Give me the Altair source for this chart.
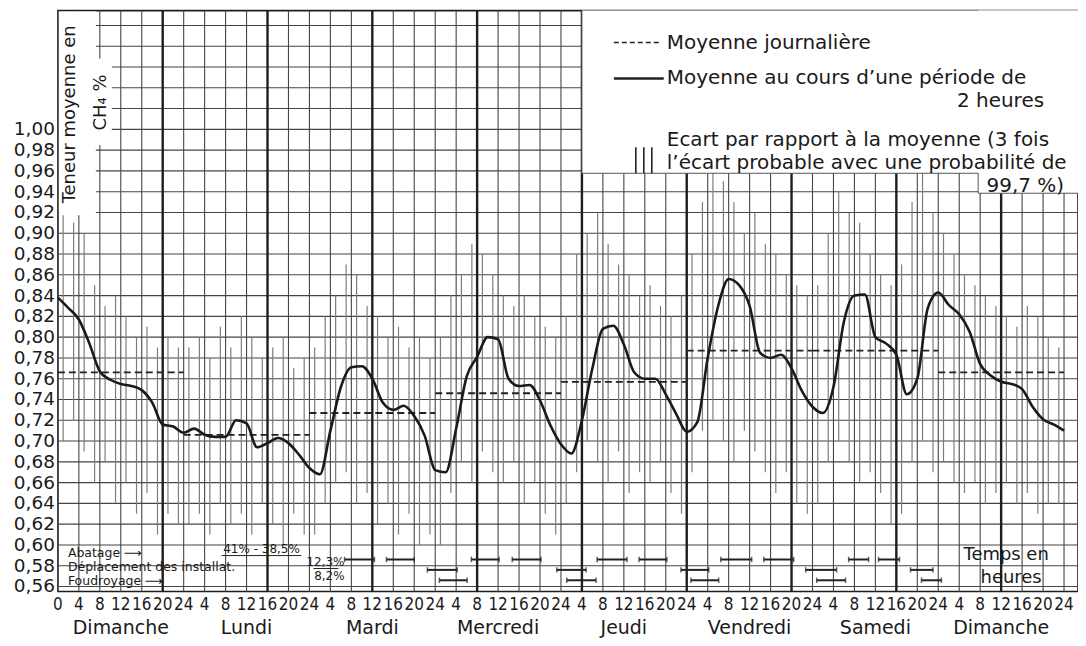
import altair as alt
import pandas as pd

# ---------------- data ----------------
HOURS = list(range(0, 193, 2))
MOY_2H = [0.838, 0.828, 0.817, 0.794, 0.767, 0.759, 0.755, 0.753, 0.749, 0.737, 0.716, 0.714,
          0.708, 0.712, 0.706, 0.704, 0.704, 0.720, 0.717, 0.694, 0.698, 0.703, 0.698, 0.687,
          0.674, 0.668, 0.710, 0.752, 0.771, 0.772, 0.760, 0.737, 0.730, 0.734, 0.724, 0.705,
          0.672, 0.670, 0.712, 0.762, 0.781, 0.800, 0.798, 0.760, 0.753, 0.754, 0.739, 0.715,
          0.697, 0.688, 0.720, 0.770, 0.808, 0.811, 0.793, 0.766, 0.760, 0.760, 0.745, 0.726,
          0.709, 0.718, 0.780, 0.830, 0.856, 0.850, 0.830, 0.785, 0.780, 0.783, 0.770, 0.748,
          0.733, 0.727, 0.752, 0.815, 0.840, 0.841, 0.800, 0.794, 0.783, 0.745, 0.760, 0.828,
          0.843, 0.831, 0.822, 0.805, 0.774, 0.763, 0.757, 0.755, 0.750, 0.733, 0.721, 0.716,
          0.710]

BAR_HOURS = list(range(1, 192, 2))
BAR_HIGH = [0.92, 0.91, 0.90, 0.85, 0.83, 0.84, 0.82, 0.80, 0.81, 0.79, 0.80, 0.79,
            0.79, 0.80, 0.78, 0.81, 0.79, 0.82, 0.80, 0.78, 0.79, 0.80, 0.77, 0.78,
            0.79, 0.82, 0.84, 0.87, 0.86, 0.83, 0.82, 0.80, 0.81, 0.79, 0.80, 0.78,
            0.80, 0.84, 0.86, 0.89, 0.88, 0.86, 0.84, 0.83, 0.84, 0.82, 0.81, 0.80,
            0.82, 0.88, 0.90, 0.92, 0.89, 0.87, 0.86, 0.84, 0.85, 0.83, 0.82, 0.84,
            0.88, 0.93, 0.96, 0.95, 0.93, 0.90, 0.92, 0.89, 0.88, 0.86, 0.85, 0.84,
            0.85, 0.90, 0.94, 0.92, 0.91, 0.88, 0.86, 0.85, 0.87, 0.93, 0.96, 0.92,
            0.90, 0.88, 0.86, 0.85, 0.84, 0.83, 0.82, 0.81, 0.83, 0.82, 0.80, 0.79]
BAR_LOW = [0.70, 0.72, 0.69, 0.66, 0.68, 0.64, 0.66, 0.63, 0.65, 0.61, 0.63, 0.62,
           0.62, 0.63, 0.61, 0.64, 0.62, 0.63, 0.61, 0.64, 0.62, 0.60, 0.63, 0.61,
           0.61, 0.64, 0.66, 0.67, 0.64, 0.65, 0.62, 0.64, 0.61, 0.63, 0.60, 0.61,
           0.60, 0.65, 0.68, 0.66, 0.69, 0.67, 0.66, 0.68, 0.64, 0.66, 0.63, 0.61,
           0.64, 0.67, 0.70, 0.68, 0.66, 0.69, 0.65, 0.67, 0.66, 0.68, 0.65, 0.63,
           0.67, 0.71, 0.72, 0.70, 0.68, 0.71, 0.69, 0.67, 0.65, 0.67, 0.64, 0.63,
           0.64, 0.68, 0.70, 0.68, 0.66, 0.67, 0.65, 0.62, 0.63, 0.68, 0.70, 0.67,
           0.68, 0.66, 0.65, 0.66, 0.64, 0.65, 0.66, 0.64, 0.65, 0.63, 0.64, 0.64]

DAY_NAMES = ["Dimanche", "Lundi", "Mardi", "Mercredi", "Jeudi", "Vendredi", "Samedi", "Dimanche"]
DAY_START = [0, 24, 48, 72, 96, 120, 144, 168]
DAY_END = [24, 48, 72, 96, 120, 144, 168, 192]
DAY_MEAN = [0.766, 0.706, 0.727, 0.746, 0.757, 0.787, 0.787, 0.766]

ABATAGE_START = [54.7, 62.7, 78.9, 86.7, 102.9, 110.9, 126.5, 134.7, 150.9, 156.6]
ABATAGE_END = [60.4, 68.0, 84.2, 92.2, 108.6, 116.2, 132.4, 140.4, 154.7, 160.6]
DEPL_START = [70.5, 95.2, 118.9, 142.7, 162.7]
DEPL_END = [76.2, 100.8, 124.2, 148.6, 167.0]
FOUD_START = [72.8, 97.1, 120.8, 144.8, 164.8]
FOUD_END = [78.1, 102.7, 126.1, 150.3, 168.6]
ROW_LEVEL = {"Abatage": 0.586, "Deplacement": 0.576, "Foudroyage": 0.566}

Y_TICKS = [round(0.56 + 0.02 * i, 2) for i in range(23)]
Y_LABELS = [f"{v:.2f}".replace(".", ",") for v in Y_TICKS]
X_TICKS = list(range(0, 193, 4))
X_LABELS = ["0" if h == 0 else ("24" if h % 24 == 0 else str(h % 24)) for h in X_TICKS]
GRID_Y = [round(0.56 + 0.02 * i, 2) for i in range(28)]

# ---------------- layout ----------------
W, H = 1022, 582
PX_PER_H = 5.25
XMAX = W / PX_PER_H
YMIN, YMAX = 0.5552, 1.1143
FONT = "DejaVu Sans"
NARROW = "Liberation Sans Narrow, DejaVu Sans Condensed, Liberation Sans"
INK = "#1a1a1a"

xs = alt.Scale(domain=[0, XMAX], nice=False, zero=False)
ys = alt.Scale(domain=[YMIN, YMAX], nice=False, zero=False)


def hx(px):
    return px / PX_PER_H


def vy(py):
    return YMAX - py * (YMAX - YMIN) / H


X = lambda f: alt.X(f, scale=xs, axis=None)
Y = lambda f: alt.Y(f, scale=ys, axis=None)

# 2-hour mean line
line = alt.Chart(pd.DataFrame({"h": HOURS, "v": MOY_2H})).mark_line(
    color=INK, strokeWidth=2.6, interpolate="monotone").encode(x=X("h:Q"), y=Y("v:Q"))

# tick labels drawn as text through the scales
ylab = alt.Chart(pd.DataFrame({"v": Y_TICKS, "t": Y_LABELS})).mark_text(
    font=FONT, fontSize=18.5, align="right", baseline="middle", color=INK).encode(
    x=alt.value(-3), y=Y("v:Q"), text="t:N")
xlab = alt.Chart(pd.DataFrame({"h": X_TICKS, "t": X_LABELS})).mark_text(
    font=NARROW, fontSize=17, align="center", baseline="top", color=INK).encode(
    x=X("h:Q"), y=alt.value(H + 6), text="t:N")

# grid
thin_h = [h for h in X_TICKS if h % 20 != 0 or h == 0]
thick_h = [h for h in X_TICKS if h % 20 == 0 and h != 0]
vgrid = alt.Chart(pd.DataFrame({"h": thin_h})).mark_rule(color="#454545", strokeWidth=1.1).encode(x=X("h:Q"))
vgrid_thick = alt.Chart(pd.DataFrame({"h": thick_h})).mark_rule(color="#1e1e1e", strokeWidth=2.4).encode(x=X("h:Q"))
hgrid = alt.Chart(pd.DataFrame({"v": GRID_Y})).mark_rule(color="#454545", strokeWidth=1.1).encode(y=Y("v:Q"))

# error bars
bars = alt.Chart(pd.DataFrame({"h": BAR_HOURS, "lo": BAR_LOW, "hi": BAR_HIGH})).mark_rule(
    color="#7d7d7d", strokeWidth=1.2).encode(x=X("h:Q"), y=Y("lo:Q"), y2="hi:Q")

# daily means
means = alt.Chart(pd.DataFrame({"s": DAY_START, "e": DAY_END, "m": DAY_MEAN})).mark_rule(
    color="#222", strokeWidth=1.8, strokeDash=[7, 4]).encode(x=X("s:Q"), x2="e:Q", y=Y("m:Q"))

# activity periods
seg_rows = []
for s, e in zip(ABATAGE_START, ABATAGE_END):
    seg_rows.append({"s": s, "e": e, "v": ROW_LEVEL["Abatage"]})
for s, e in zip(DEPL_START, DEPL_END):
    seg_rows.append({"s": s, "e": e, "v": ROW_LEVEL["Deplacement"]})
for s, e in zip(FOUD_START, FOUD_END):
    seg_rows.append({"s": s, "e": e, "v": ROW_LEVEL["Foudroyage"]})
seg_df = pd.DataFrame(seg_rows)
segs = alt.Chart(seg_df).mark_rule(color="#222", strokeWidth=2).encode(x=X("s:Q"), x2="e:Q", y=Y("v:Q"))
seg_ends = alt.Chart(seg_df).transform_fold(["s", "e"], as_=["k", "hh"]).mark_point(
    shape="stroke", angle=90, size=30, color="#222", strokeWidth=1.5).encode(x=X("hh:Q"), y=Y("v:Q"))

# day names
days = alt.Chart(pd.DataFrame({"h": [d + 12 for d in DAY_START], "n": DAY_NAMES})).mark_text(
    font=FONT, fontSize=19, color=INK, baseline="middle", align="center").encode(
    x=X("h:Q"), y=alt.value(619), text="n:N")


# ---------------- decorations (frame pixels converted to the chart's scales) ----------------
def conv(rows):
    out = []
    for r in rows:
        o = dict(r)
        for k in ("x", "x2"):
            if k in o:
                o[k] = hx(o[k])
        for k in ("y", "y2"):
            if k in o:
                o[k] = vy(o[k])
        out.append(o)
    return pd.DataFrame(out)


def f_rect(rows, fill="white"):
    return alt.Chart(conv(rows)).mark_rect(fill=fill).encode(
        x=X("x:Q"), x2="x2:Q", y=Y("y:Q"), y2="y2:Q")


def f_rule(rows, width=1.0, dash=None, color="#222"):
    kw = dict(color=color, strokeWidth=width)
    if dash:
        kw["strokeDash"] = dash
    return alt.Chart(conv(rows)).mark_rule(**kw).encode(
        x=X("x:Q"), x2="x2:Q", y=Y("y:Q"), y2="y2:Q")


def f_text(rows, size, align="left", angle=0, font=FONT):
    return alt.Chart(conv(rows)).mark_text(
        font=font, fontSize=size, align=align, baseline="middle", angle=angle, color=INK).encode(
        x=X("x:Q"), y=Y("y:Q"), text="t:N")


boxes = f_rect([
    {"x": 525, "x2": 1022, "y": 0, "y2": 163},
    {"x": 922, "x2": 1022, "y": 0, "y2": 183},
    {"x": 1, "x2": 38, "y": 1, "y2": 205},
    {"x": 36, "x2": 54, "y": 48, "y2": 135},
])
box_border = f_rule([
    {"x": 525, "x2": 525, "y": 0, "y2": 163},
    {"x": 525, "x2": 922, "y": 163, "y2": 163},
    {"x": 922, "x2": 922, "y": 163, "y2": 183},
    {"x": 922, "x2": 1022, "y": 183, "y2": 183},
], width=1.0, color="#555")

leg_dash = f_rule([{"x": 557, "x2": 605, "y": 32, "y2": 32}], width=1.6, dash=[5, 3])
leg_solid = f_rule([{"x": 557, "x2": 607, "y": 68, "y2": 68}], width=2.4)
leg_bars = f_rule([
    {"x": 579, "x2": 579, "y": 137, "y2": 163},
    {"x": 587, "x2": 587, "y": 137, "y2": 163},
    {"x": 595, "x2": 595, "y": 137, "y2": 163},
], width=1.6)

leg_text_left = f_text([
    {"x": 610, "y": 32, "t": "Moyenne journalière"},
    {"x": 610, "y": 68, "t": "Moyenne au cours d’une période de"},
    {"x": 610, "y": 130, "t": "Ecart par rapport à la moyenne (3 fois"},
    {"x": 610, "y": 153, "t": "l’écart probable avec une probabilité de"},
], 20)
leg_text_right = f_text([
    {"x": 988, "y": 91, "t": "2 heures"},
    {"x": 1008, "y": 176, "t": "99,7 %)"},
], 20, align="right")

ytitle = f_text([
    {"x": 12, "y": 104, "t": "Teneur moyenne en"},
    {"x": 43, "y": 92, "t": "CH₄ %"},
], 18, align="center", angle=270)

bottom_labels = f_text([
    {"x": 10, "y": 543, "t": "Abatage ⟶"},
    {"x": 10, "y": 557, "t": "Déplacement des installat."},
    {"x": 10, "y": 571, "t": "Foudroyage ⟶"},
], 12.5)
pct_labels = f_text([
    {"x": 204, "y": 539, "t": "41% - 38,5%"},
    {"x": 268, "y": 552, "t": "12,3%"},
    {"x": 272, "y": 566, "t": "8,2%"},
], 12, align="center")
pct_lines = f_rule([
    {"x": 164, "x2": 244, "y": 546, "y2": 546},
    {"x": 256, "x2": 281, "y": 559, "y2": 559},
], width=1.0)
temps = f_text([
    {"x": 950, "y": 545, "t": "Temps en"},
    {"x": 955, "y": 568, "t": "heures"},
], 18, align="center")

chart = alt.layer(
    hgrid, vgrid, vgrid_thick, bars, means, segs, seg_ends,
    boxes, box_border, leg_dash, leg_solid, leg_bars, leg_text_left, leg_text_right,
    ytitle, bottom_labels, pct_labels, pct_lines, temps, days, ylab, xlab,
    line,
).properties(
    width=W, height=H,
    autosize=alt.AutoSizeParams(type="none"),
    padding={"left": 50, "top": 2, "right": 0, "bottom": 46},
    background="white",
).configure_view(stroke="#1e1e1e", strokeWidth=1.6)

chart.save("out.html", embed_options={"renderer": "svg", "actions": False})
